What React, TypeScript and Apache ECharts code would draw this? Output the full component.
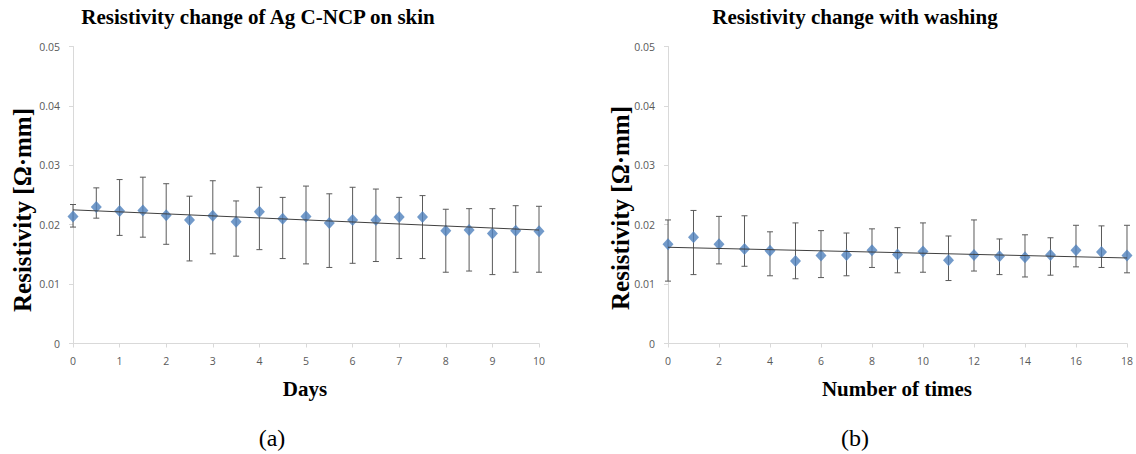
import React, { useEffect, useRef } from "react";
import * as echarts from "echarts";

// ---- Data (a): resistivity on skin vs days ----
const daysX = [0, 0.5, 1, 1.5, 2, 2.5, 3, 3.5, 4, 4.5, 5, 5.5, 6, 6.5, 7, 7.5, 8, 8.5, 9, 9.5, 10];
const skinMean = [0.0214, 0.0230, 0.0223, 0.0224, 0.0216, 0.0208, 0.0215, 0.0205, 0.0222, 0.0210, 0.0214, 0.0203, 0.0208, 0.0208, 0.0213, 0.0213, 0.0190, 0.0191, 0.0185, 0.0190, 0.0189];
const skinHigh = [0.0234, 0.0262, 0.0276, 0.0280, 0.0269, 0.0248, 0.0274, 0.0240, 0.0263, 0.0246, 0.0265, 0.0252, 0.0263, 0.0260, 0.0246, 0.0249, 0.0226, 0.0227, 0.0227, 0.0232, 0.0231];
const skinLow = [0.0196, 0.0211, 0.0182, 0.0179, 0.0167, 0.0139, 0.0151, 0.0147, 0.0158, 0.0143, 0.0134, 0.0128, 0.0135, 0.0138, 0.0143, 0.0143, 0.0120, 0.0122, 0.0116, 0.0120, 0.0120];
const skinTrendX = [0, 10];
const skinTrendY = [0.0225, 0.0191];

// ---- Data (b): resistivity vs number of washes ----
const washX = [0, 1, 2, 3, 4, 5, 6, 7, 8, 9, 10, 11, 12, 13, 14, 15, 16, 17, 18];
const washMean = [0.0167, 0.0179, 0.0167, 0.0159, 0.0156, 0.0139, 0.0148, 0.0149, 0.0157, 0.0150, 0.0155, 0.0140, 0.0149, 0.0147, 0.0145, 0.0149, 0.0157, 0.0154, 0.0148];
const washHigh = [0.0208, 0.0224, 0.0214, 0.0215, 0.0188, 0.0203, 0.0190, 0.0186, 0.0193, 0.0195, 0.0203, 0.0181, 0.0208, 0.0176, 0.0183, 0.0178, 0.0199, 0.0198, 0.0199];
const washLow = [0.0105, 0.0116, 0.0134, 0.0130, 0.0114, 0.0109, 0.0111, 0.0114, 0.0128, 0.0119, 0.0120, 0.0106, 0.0122, 0.0116, 0.0112, 0.0115, 0.0129, 0.0128, 0.0119];
const washTrendX = [0, 18];
const washTrendY = [0.0162, 0.0144];

const yTicks = { min: 0, max: 0.05, interval: 0.01 };

const SERIF = "'Liberation Serif', 'Times New Roman', serif";
const SANS = "'Open Sans', 'Noto Sans', sans-serif";
const AXIS_COLOR = "#d9d9d9";
const LABEL_COLOR = "#595959";
const MARKER = "#4f81bd";
const ERR = "#5a5a5a";

function errorSeries(xs: number[], hi: number[], lo: number[], idx: number) {
  return {
    type: "custom",
    xAxisIndex: idx,
    yAxisIndex: idx,
    z: 2,
    data: xs.map((x, i) => [x, hi[i], lo[i]]),
    encode: { x: 0, y: [1, 2] },
    renderItem: (params: any, api: any) => {
      const x = api.value(0);
      const pHi = api.coord([x, api.value(1)]);
      const pLo = api.coord([x, api.value(2)]);
      const style = { stroke: ERR, lineWidth: 1 };
      const cap = 3;
      return {
        type: "group",
        children: [
          { type: "line", shape: { x1: pHi[0], y1: pHi[1], x2: pLo[0], y2: pLo[1] }, style },
          { type: "line", shape: { x1: pHi[0] - cap, y1: pHi[1], x2: pHi[0] + cap, y2: pHi[1] }, style },
          { type: "line", shape: { x1: pLo[0] - cap, y1: pLo[1], x2: pLo[0] + cap, y2: pLo[1] }, style },
        ],
      };
    },
  };
}

function yAxis(idx: number) {
  return {
    type: "value",
    gridIndex: idx,
    ...yTicks,
    axisLine: { show: true, lineStyle: { color: AXIS_COLOR } },
    axisTick: { show: true, length: 4, lineStyle: { color: AXIS_COLOR } },
    axisLabel: { color: LABEL_COLOR, fontFamily: SANS, fontSize: 10.5, margin: 13 },
    splitLine: { show: false },
  };
}

function xAxis(idx: number, max: number, interval: number) {
  return {
    type: "value",
    gridIndex: idx,
    min: 0,
    max,
    interval,
    axisLine: { show: true, onZero: false, lineStyle: { color: AXIS_COLOR } },
    axisTick: { show: true, length: 4, lineStyle: { color: AXIS_COLOR } },
    axisLabel: { color: LABEL_COLOR, fontFamily: SANS, fontSize: 10.5, margin: 12 },
    splitLine: { show: false },
  };
}

export default function App() {
  const ref = useRef<HTMLDivElement>(null);
  useEffect(() => {
    if (!ref.current) return;
    const chart = echarts.init(ref.current, null, { renderer: "svg" });
    const boldSerif = (size: number) => `bold ${size}px ${SERIF}`;
    chart.setOption({
      animation: false,
      backgroundColor: "#ffffff",
      grid: [
        { left: 73, top: 46.5, width: 466, height: 297 },
        { left: 668, top: 46.5, width: 459, height: 297 },
      ],
      xAxis: [xAxis(0, 10, 1), xAxis(1, 18, 2)],
      yAxis: [yAxis(0), yAxis(1)],
      series: [
        errorSeries(daysX, skinHigh, skinLow, 0),
        {
          type: "scatter",
          xAxisIndex: 0,
          yAxisIndex: 0,
          symbol: "diamond",
          symbolSize: [11, 12],
          itemStyle: { color: MARKER },
          z: 3,
          data: daysX.map((x, i) => [x, skinMean[i]]),
        },
        {
          type: "line",
          xAxisIndex: 0,
          yAxisIndex: 0,
          showSymbol: false,
          symbol: "none",
          lineStyle: { color: "#404040", width: 1 },
          z: 4,
          data: skinTrendX.map((x, i) => [x, skinTrendY[i]]),
        },
        errorSeries(washX, washHigh, washLow, 1),
        {
          type: "scatter",
          xAxisIndex: 1,
          yAxisIndex: 1,
          symbol: "diamond",
          symbolSize: [11, 12],
          itemStyle: { color: MARKER },
          z: 3,
          data: washX.map((x, i) => [x, washMean[i]]),
        },
        {
          type: "line",
          xAxisIndex: 1,
          yAxisIndex: 1,
          showSymbol: false,
          symbol: "none",
          lineStyle: { color: "#404040", width: 1 },
          z: 4,
          data: washTrendX.map((x, i) => [x, washTrendY[i]]),
        },
      ],
      graphic: [
        { type: "text", x: 258, y: 17, style: { text: "Resistivity change of Ag C-NCP on skin", font: boldSerif(21), fill: "#000", align: "center", verticalAlign: "middle" } },
        { type: "text", x: 855, y: 17, style: { text: "Resistivity change with washing", font: boldSerif(21), fill: "#000", align: "center", verticalAlign: "middle" } },
        { type: "text", x: 22.5, y: 210, rotation: Math.PI / 2, style: { text: "Resistivity [Ω·mm]", font: boldSerif(25), fill: "#000", align: "center", verticalAlign: "middle" } },
        { type: "text", x: 620, y: 208, rotation: Math.PI / 2, style: { text: "Resistivity [Ω·mm]", font: boldSerif(25), fill: "#000", align: "center", verticalAlign: "middle" } },
        { type: "text", x: 305, y: 389, style: { text: "Days", font: boldSerif(21), fill: "#000", align: "center", verticalAlign: "middle" } },
        { type: "text", x: 897, y: 389, style: { text: "Number of times", font: boldSerif(21), fill: "#000", align: "center", verticalAlign: "middle" } },
        { type: "text", x: 272, y: 438, style: { text: "(a)", font: `24px ${SERIF}`, fill: "#000", align: "center", verticalAlign: "middle" } },
        { type: "text", x: 855, y: 438, style: { text: "(b)", font: `24px ${SERIF}`, fill: "#000", align: "center", verticalAlign: "middle" } },
      ],
    });
    return () => chart.dispose();
  }, []);
  return (
    <div
      ref={ref}
      style={{ position: "absolute", left: 0, top: 0, width: 1136, height: 454, background: "#fff" }}
    />
  );
}
